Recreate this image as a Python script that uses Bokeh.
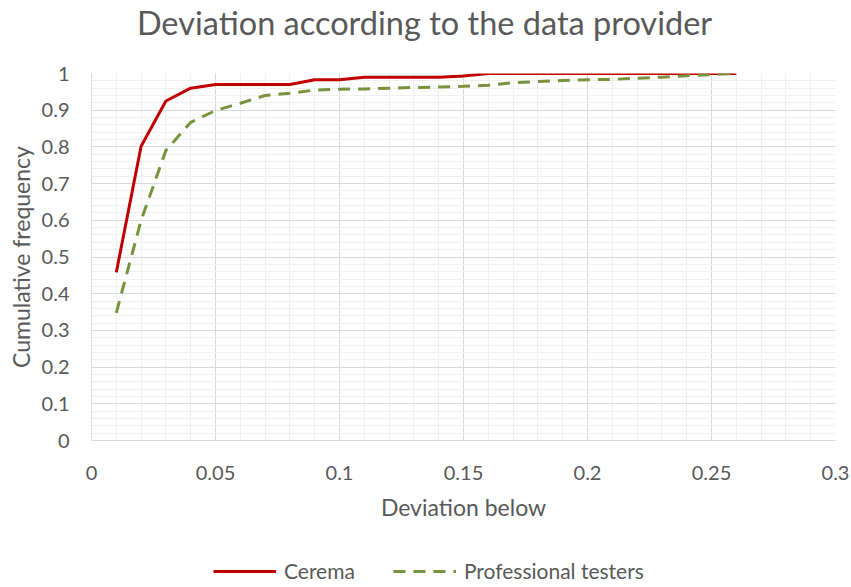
from bokeh.plotting import figure
from bokeh.layouts import column
from bokeh.models import FixedTicker, CustomJSTickFormatter, Legend, LegendItem, Label
from bokeh.embed import file_html
from bokeh.resources import INLINE

deviation = [0.01, 0.02, 0.03, 0.04, 0.05, 0.06, 0.07, 0.08, 0.09, 0.10,
             0.11, 0.12, 0.13, 0.14, 0.15, 0.16, 0.17, 0.18, 0.19, 0.20,
             0.21, 0.22, 0.23, 0.24, 0.25, 0.26]
cerema = [0.458, 0.802, 0.925, 0.960, 0.970, 0.970, 0.970, 0.970, 0.983, 0.983,
          0.990, 0.990, 0.990, 0.990, 0.993, 1.000, 1.000, 1.000, 1.000, 1.000,
          1.000, 1.000, 1.000, 1.000, 1.000, 1.000]
professional = [0.348, 0.600, 0.790, 0.867, 0.899, 0.919, 0.940, 0.946, 0.955, 0.957,
                0.958, 0.960, 0.962, 0.963, 0.965, 0.968, 0.975, 0.978, 0.981, 0.983,
                0.984, 0.987, 0.990, 0.994, 0.997, 1.000]
x_ticks = [0, 0.05, 0.1, 0.15, 0.2, 0.25, 0.3]
x_minor = [i / 100 for i in range(0, 31)]
y_ticks = [i / 10 for i in range(0, 11)]
y_minor = [i / 50 for i in range(0, 51)]
series_names = ["Cerema", "Professional testers"]
title_text = "Deviation according to the data provider"

FONT = "Lato"
GRAY = "#595959"
RED = "#c00000"
GREEN = "#77933c"

# title strip
t = figure(width=851, height=58, x_range=(0, 1), y_range=(0, 1),
           output_backend="svg", toolbar_location=None, min_border=0)
t.axis.visible = False
t.grid.visible = False
t.outline_line_color = None
t.add_layout(Label(x=333, y=36, x_units="screen", y_units="screen",
                   text=title_text, text_align="center", text_baseline="middle",
                   text_font=FONT, text_font_size="32.5px", text_color=GRAY))

# main chart
p = figure(width=851, height=472, x_range=(0, 0.3), y_range=(0, 1),
           output_backend="svg", toolbar_location=None,
           min_border_left=91, min_border_right=16, min_border_top=15,
           min_border_bottom=90)
p.outline_line_color = None
p.background_fill_color = "white"

fmt = CustomJSTickFormatter(code="return String(Number(tick.toFixed(2)));")

p.xaxis.ticker = FixedTicker(ticks=x_ticks, minor_ticks=x_minor)
p.yaxis.ticker = FixedTicker(ticks=y_ticks, minor_ticks=y_minor)
for ax in (p.xaxis, p.yaxis):
    ax.formatter = fmt
    ax.major_tick_line_color = None
    ax.minor_tick_line_color = None
    ax.major_tick_out = 0
    ax.minor_tick_out = 0
    ax.axis_line_color = "#d9d9d9"
    ax.major_label_text_font = FONT
    ax.major_label_text_font_size = "20px"
    ax.major_label_text_color = GRAY
    ax.axis_label_text_font = FONT
    ax.axis_label_text_font_size = "23px"
    ax.axis_label_text_font_style = "normal"
    ax.axis_label_text_color = GRAY

p.xaxis.axis_label = "Deviation below"
p.yaxis.axis_label = "Cumulative frequency"
p.xaxis.major_label_standoff = 25
p.yaxis.major_label_standoff = 22
p.xaxis.axis_label_standoff = 10
p.yaxis.axis_label_standoff = 4

for g in (p.xgrid, p.ygrid):
    g.grid_line_color = "#d9d9d9"
    g.grid_line_width = 1
    g.minor_grid_line_color = "#f0f0f0"
    g.minor_grid_line_width = 1

p.line(deviation, cerema, line_color=RED, line_width=3)
p.line(deviation, professional, line_color=GREEN, line_width=3,
       line_dash="12 8")

# legend strip below the chart (its lines lie outside its visible range)
q = figure(width=851, height=57, x_range=(5, 6), y_range=(5, 6),
           output_backend="svg", toolbar_location=None, min_border=0)
q.axis.visible = False
q.grid.visible = False
q.outline_line_color = None
k1 = q.line(deviation, cerema, line_color=RED, line_width=3)
k2 = q.line(deviation, professional, line_color=GREEN, line_width=3,
            line_dash="12 8")

legend = Legend(items=[LegendItem(label=series_names[0], renderers=[k1]),
                       LegendItem(label=series_names[1], renderers=[k2])],
                orientation="horizontal", location=(122, 4),
                label_text_font=FONT, label_text_font_size="21px",
                label_text_color=GRAY, glyph_width=63, glyph_height=20,
                spacing=38, label_standoff=8, border_line_color=None,
                background_fill_alpha=0, margin=0, padding=0)
q.add_layout(legend, "center")

open("out.html", "w").write(file_html(column(t, p, q, spacing=0), INLINE))
